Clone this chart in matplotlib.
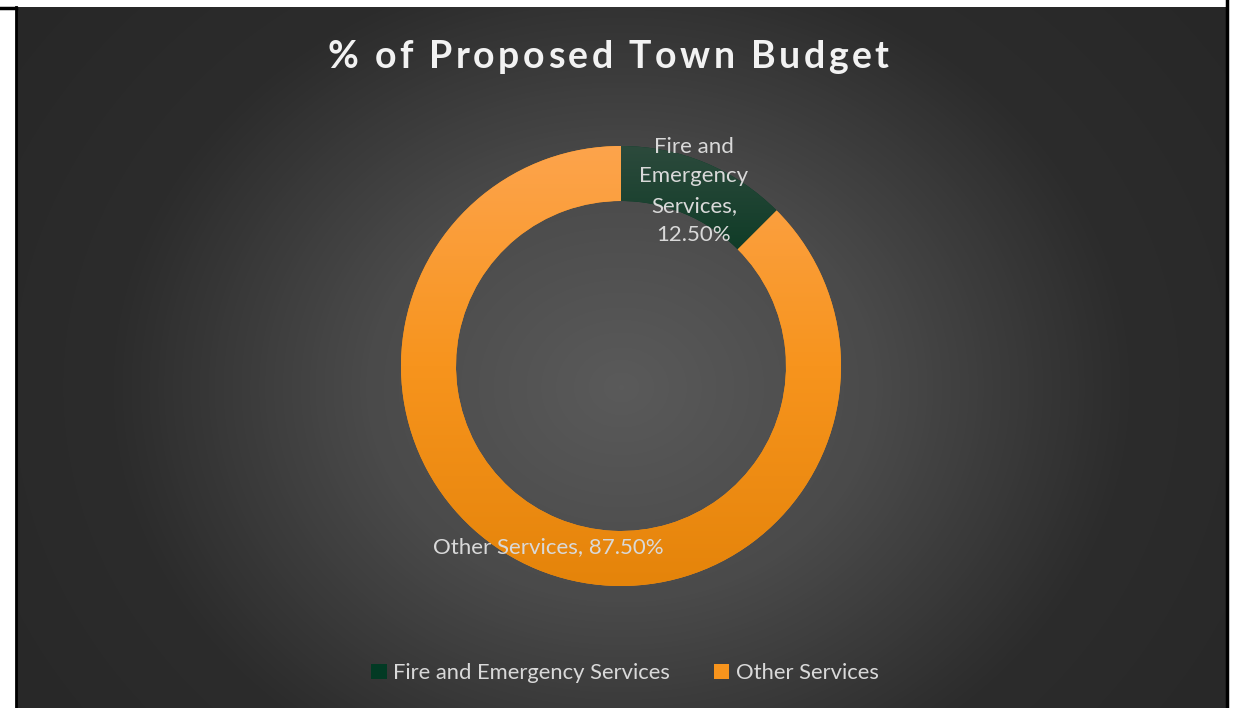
import numpy as np
import matplotlib
matplotlib.use('Agg')
import matplotlib.pyplot as plt
from matplotlib.colors import LinearSegmentedColormap
from matplotlib.lines import Line2D

plt.rcParams['font.family'] = ['Lato', 'DejaVu Sans']

# data
labels = ['Fire and Emergency Services', 'Other Services']
shares = [12.5, 87.5]
label_text = ['Fire and\nEmergency\nServices,\n12.50%', 'Other Services, 87.50%']
title = '% of Proposed Town Budget'

W, H = 1250, 708
fig = plt.figure(figsize=(W / 100, H / 100), dpi=100)
fig.patch.set_facecolor('white')

# dark panel with radial gradient
bg = fig.add_axes([16 / W, 0, (1226 - 16) / W, (H - 7) / H])
bg.set_axis_off()
yy, xx = np.mgrid[0:701, 0:1210]
d = np.hypot((xx - 605) / 760, (yy - 380) / 640)
bg_cmap = LinearSegmentedColormap.from_list('bg', ['#5a5a5a', '#4a4a4a', '#2c2c2c', '#272727'])
bg.imshow(np.clip(d, 0, 1), cmap=bg_cmap, vmin=0, vmax=1, aspect='auto', interpolation='bilinear')

# border lines
fig.add_artist(Line2D([15.5 / W, 15.5 / W], [0, (H - 7) / H], color='black', lw=2))
fig.add_artist(Line2D([0, 16 / W], [(H - 7.5) / H, (H - 7.5) / H], color='black', lw=2.5))
fig.add_artist(Line2D([1227 / W, 1227 / W], [0, 1], color='black', lw=2.5))

# donut
cx, cy, r = 621, 366, 220
ax = fig.add_axes([(cx - r) / W, (H - cy - r) / H, 2 * r / W, 2 * r / H])
ax.set_axis_off()
colors = ['#023a24', '#f7941d']
wedges, _ = ax.pie(shares, colors=colors, startangle=90, counterclock=False,
                   radius=1, wedgeprops=dict(width=0.25, linewidth=0))

# gradient fills clipped to each wedge
grad = np.linspace(0, 1, 256).reshape(-1, 1)
cmaps = [LinearSegmentedColormap.from_list('g', ['#2c4a3c', '#04361f', '#00301c', '#00301c']),
         LinearSegmentedColormap.from_list('o', ['#fda44c', '#f7941d', '#e5840a'])]
for w, cm in zip(wedges, cmaps):
    im = ax.imshow(grad, cmap=cm, extent=[-1, 1, -1, 1], origin='upper',
                   aspect='auto', zorder=w.get_zorder() + 1)
    im.set_clip_path(w)
ax.set_xlim(-1, 1)
ax.set_ylim(-1, 1)

# data labels
fig.text(694 / W, 1 - 191 / H, label_text[0], color='#d9d9d9', fontsize=16,
         ha='center', va='center', linespacing=1.6)
fig.text(548 / W, 1 - 547 / H, label_text[1], color='#d9d9d9', fontsize=16,
         ha='center', va='center')

# title with wide letter spacing
renderer = fig.canvas.get_renderer()
tkw = dict(color='#f2f2f2', fontsize=27, fontweight='bold', va='center', ha='left')
spacing = 3.5
widths = []
for ch in title:
    if ch == ' ':
        t = fig.text(0, 0, 'a a', **tkw)
        w_all = t.get_window_extent(renderer).width
        t.set_text('aa')
        w_all -= t.get_window_extent(renderer).width
    else:
        t = fig.text(0, 0, ch, **tkw)
        w_all = t.get_window_extent(renderer).width
    t.remove()
    widths.append(w_all)
total = sum(widths) + spacing * (len(title) - 1)
x = 608 - total / 2
for ch, w in zip(title, widths):
    if ch != ' ':
        fig.text(x / W, 1 - 57 / H, ch, **tkw)
    x += w + spacing

# legend
leg = fig.legend(wedges, labels, loc='center', bbox_to_anchor=(625 / W, 1 - 673 / H),
                 ncol=2, frameon=False, fontsize=15.8, labelcolor='#d9d9d9',
                 handlelength=0.7, handleheight=0.7, handletextpad=0.3, columnspacing=2.0)

fig.savefig('out.png', dpi=100, facecolor=fig.get_facecolor())
